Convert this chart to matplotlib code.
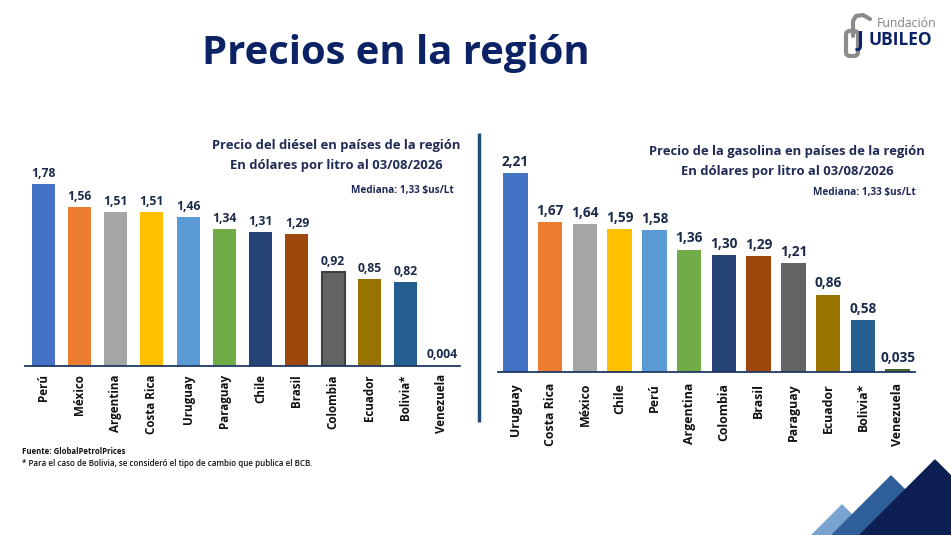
import matplotlib.pyplot as plt
from matplotlib.patches import Polygon, FancyBboxPatch

plt.rcParams["font.family"] = ["Open Sans", "DejaVu Sans"]

# Datos: precio del diésel (USD por litro)
diesel_countries = ["Perú", "México", "Argentina", "Costa Rica", "Uruguay", "Paraguay",
                    "Chile", "Brasil", "Colombia", "Ecuador", "Bolivia*", "Venezuela"]
diesel_prices = [1.78, 1.56, 1.51, 1.51, 1.46, 1.34, 1.31, 1.29, 0.92, 0.85, 0.82, 0.004]
diesel_labels = ["1,78", "1,56", "1,51", "1,51", "1,46", "1,34", "1,31", "1,29",
                 "0,92", "0,85", "0,82", "0,004"]

# Datos: precio de la gasolina (USD por litro)
gas_countries = ["Uruguay", "Costa Rica", "México", "Chile", "Perú", "Argentina",
                 "Colombia", "Brasil", "Paraguay", "Ecuador", "Bolivia*", "Venezuela"]
gas_prices = [2.21, 1.67, 1.64, 1.59, 1.58, 1.36, 1.30, 1.29, 1.21, 0.86, 0.58, 0.035]
gas_labels = ["2,21", "1,67", "1,64", "1,59", "1,58", "1,36", "1,30", "1,29",
              "1,21", "0,86", "0,58", "0,035"]

palette = ["#4472C4", "#ED7D31", "#A5A5A5", "#FFC000", "#5B9BD5", "#70AD47",
           "#264478", "#9E480E", "#636363", "#997300", "#255E91", "#43682B"]

W, H = 951, 535
NAVY = "#0B2265"
LABEL = "#1B2A4A"

fig = plt.figure(figsize=(W / 100, H / 100), dpi=100)
fig.patch.set_facecolor("white")


def px_axes(left, right, baseline, top):
    return fig.add_axes([left / W, 1 - baseline / H, (right - left) / W, (baseline - top) / H])


def draw_bars(ax, countries, prices, labels, width, val_size, tick_size, tick_pad, ymax):
    x = range(len(countries))
    bars = ax.bar(x, prices, width=width, color=palette, zorder=2)
    ax.set_xlim(-0.5, len(countries) - 0.5)
    ax.set_ylim(0, ymax)
    for bar, lab in zip(bars, labels):
        ax.annotate(lab, (bar.get_x() + bar.get_width() / 2, bar.get_height()),
                    xytext=(0, 3), textcoords="offset points", ha="center", va="bottom",
                    fontsize=val_size, fontweight="bold", color=LABEL)
    ax.set_xticks(list(x))
    ax.set_xticklabels(countries, rotation=90, fontsize=tick_size, fontweight="bold",
                       color="#111111", va="top")
    ax.tick_params(axis="x", length=0, pad=tick_pad)
    ax.set_yticks([])
    for side in ["top", "right", "left"]:
        ax.spines[side].set_visible(False)
    ax.spines["bottom"].set_color("#1F3864")
    ax.spines["bottom"].set_linewidth(1.3)
    ax.patch.set_alpha(0)
    return bars


# Gráfico del diésel
ax1 = px_axes(25, 460, 366, 162)
bars1 = draw_bars(ax1, diesel_countries, diesel_prices, diesel_labels, 0.63, 8.7, 8.4, 6, 2.0)
bars1[8].set_edgecolor("#3F3F3F")
bars1[8].set_linewidth(1.5)

# Gráfico de la gasolina
ax2 = px_axes(498, 915, 372, 156)
draw_bars(ax2, gas_countries, gas_prices, gas_labels, 0.71, 9.8, 8.9, 8, 2.4)

# Capa de fondo para textos y decoraciones
bg = fig.add_axes([0, 0, 1, 1], zorder=-1)
bg.set_xlim(0, W)
bg.set_ylim(H, 0)
bg.axis("off")

bg.text(396, 64, "Precios en la región", ha="center", va="baseline",
        fontsize=28.8, fontweight="bold", color=NAVY)

bg.text(336, 146, "Precio del diésel en países de la región", ha="center", va="center",
        fontsize=9.4, fontweight="bold", color="#1F2A55")
bg.text(336, 166, "En dólares por litro al 03/08/2026", ha="center", va="center",
        fontsize=9.4, fontweight="bold", color="#1F2A55")
bg.text(454, 191, "Mediana: 1,33 $us/Lt", ha="right", va="center",
        fontsize=7.2, fontweight="bold", color="#1F2A55")

bg.text(787, 152, "Precio de la gasolina en países de la región", ha="center", va="center",
        fontsize=9.4, fontweight="bold", color="#1F2A55")
bg.text(787, 172, "En dólares por litro al 03/08/2026", ha="center", va="center",
        fontsize=9.4, fontweight="bold", color="#1F2A55")
bg.text(916, 192, "Mediana: 1,33 $us/Lt", ha="right", va="center",
        fontsize=7.2, fontweight="bold", color="#1F2A55")

# Separador vertical
bg.plot([479, 479], [133, 422], color="#1F4E79", lw=2.5, solid_capstyle="butt")

# Notas al pie
bg.text(22, 451, "Fuente: GlobalPetrolPrices", ha="left", va="center",
        fontsize=5.6, fontweight="bold", color="#111111")
bg.text(22, 463, "* Para el caso de Bolivia, se consideró el tipo de cambio que publica el BCB.",
        ha="left", va="center", fontsize=5.8, fontweight="semibold", color="#111111")

# Montañas decorativas
bg.add_patch(Polygon([(812, 535), (842, 505), (872, 535)], closed=True, color="#7BA3D0"))
bg.add_patch(Polygon([(832, 535), (891, 476), (950, 535)], closed=True, color="#2F5F98"))
bg.add_patch(Polygon([(860, 535), (935, 460), (1010, 535)], closed=True, color="#0D1F52"))

# Logo Fundación Jubileo (aproximado)
bg.add_patch(FancyBboxPatch((846, 31), 12, 25, boxstyle="round,pad=0,rounding_size=4",
                            fill=False, ec="#8C8C8C", lw=3))
bg.plot([853, 853, 856, 863, 870], [36, 21, 16, 15, 19], color="#8C8C8C", lw=3,
        solid_capstyle="round")
bg.text(857, 46, "J", ha="left", va="baseline", fontsize=15, fontweight="bold", color=NAVY)
bg.text(877, 27, "Fundación", ha="left", va="baseline", fontsize=8.8, color="#808080")
bg.text(869, 45, "UBILEO", ha="left", va="baseline", fontsize=12.5, fontweight="bold", color=NAVY)

fig.savefig("out.png", dpi=100, facecolor="white")
